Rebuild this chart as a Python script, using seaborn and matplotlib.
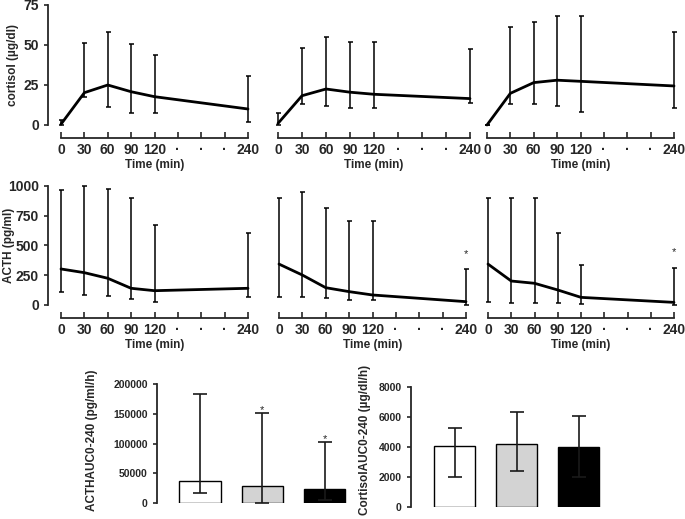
import matplotlib
matplotlib.use("Agg")
import matplotlib.pyplot as plt
import pandas as pd
import seaborn as sns

# time points (min)
times = [0, 30, 60, 90, 120, 240]
tick_pos = [0, 30, 60, 90, 120, 150, 180, 210, 240]
tick_labels = ["0", "30", "60", "90", "120", "·", "·", "·", "240"]

# cortisol (ug/dl): mean, lower, upper per panel
cort_mean_1 = [0.5, 20.2, 25.0, 20.8, 17.7, 10.0]
cort_lo_1 = [0.0, 17.7, 11.5, 7.3, 7.3, 2.0]
cort_hi_1 = [3.0, 51.0, 58.0, 50.4, 44.0, 30.6]
cort_mean_2 = [1.0, 18.3, 22.5, 20.5, 19.2, 16.5]
cort_lo_2 = [0.0, 13.0, 12.0, 10.4, 10.8, 13.5]
cort_hi_2 = [7.3, 48.0, 55.2, 52.0, 52.0, 47.3]
cort_mean_3 = [0.0, 19.8, 26.5, 28.0, 27.3, 24.4]
cort_lo_3 = [0.0, 13.0, 13.0, 12.0, 8.3, 10.4]
cort_hi_3 = [0.0, 61.0, 64.5, 68.3, 68.3, 58.0]

# ACTH (pg/ml)
acth_mean_1 = [302, 271, 224, 140, 120, 140]
acth_lo_1 = [106, 84, 78, 50, 28, 70]
acth_hi_1 = [964, 997, 970, 900, 670, 601]
acth_mean_2 = [343, 251, 145, 112, 84, 28]
acth_lo_2 = [70, 70, 56, 42, 42, 0]
acth_hi_2 = [900, 950, 810, 704, 704, 299]
acth_mean_3 = [343, 201, 182, 126, 64, 22]
acth_lo_3 = [28, 20, 14, 14, 8, 0]
acth_hi_3 = [900, 900, 900, 601, 335, 308]

# AUC bars
groups = ["A", "B", "C"]
bar_colors = ["white", "#d3d3d3", "black"]
acth_auc = [37900, 29000, 23500]
acth_auc_lo = [17800, 1000, 5000]
acth_auc_hi = [183000, 151900, 103300]
cort_auc = [4067, 4156, 4000]
cort_auc_lo = [1980, 2380, 2000]
cort_auc_hi = [5267, 6333, 6067]

sns.set_style("ticks")
plt.rcParams["font.family"] = ["Liberation Sans", "DejaVu Sans"]
plt.rcParams["font.weight"] = "bold"
plt.rcParams["axes.labelweight"] = "bold"

W, H = 685, 519
fig = plt.figure(figsize=(W / 100, H / 100), dpi=100)


def px_axes(left, top, right, bottom):
    return fig.add_axes([left / W, 1 - bottom / H, (right - left) / W, (bottom - top) / H])


def place_ylabel(ax, box, x_px, y_px):
    # x_px is the right edge of the rotated label
    left, top, right, bottom = box
    ax.yaxis.set_label_coords((x_px - left) / (right - left), (bottom - y_px) / (bottom - top))


def time_panel(box, mean, lo, hi, ymax, yticks, ylabel=None, label_x=18, star=None):
    ax = px_axes(*box)
    sns.lineplot(x=times, y=mean, ax=ax, color="black", linewidth=2, clip_on=False)
    yerr = [[m - l for m, l in zip(mean, lo)], [h - m for m, h in zip(mean, hi)]]
    ax.errorbar(times, mean, yerr=yerr, fmt="none", ecolor="black",
                elinewidth=1.1, capsize=1.8, capthick=1.1, clip_on=False)
    ax.set_xlim(0, 240)
    ax.set_ylim(0, ymax)
    ax.set_xticks(tick_pos)
    ax.set_xticklabels(tick_labels, fontsize=7, fontweight="bold")
    ax.tick_params(axis="x", direction="in", length=4, width=1.2, pad=4)
    ax.spines["bottom"].set_position(("outward", 9.3))
    ax.spines["bottom"].set_linewidth(1.3)
    ax.spines["top"].set_visible(False)
    ax.spines["right"].set_visible(False)
    ax.set_xlabel("Time (min)", fontsize=8.5, fontweight="bold", labelpad=1)
    if ylabel:
        ax.set_yticks(yticks)
        ax.set_yticklabels([str(t) for t in yticks], fontsize=7, fontweight="bold")
        ax.tick_params(axis="y", direction="out", length=3, width=1.2)
        ax.spines["left"].set_position(("outward", 9.3))
        ax.spines["left"].set_linewidth(1.3)
        ax.set_ylabel(ylabel, fontsize=8.5, fontweight="bold")
        place_ylabel(ax, box, label_x, (box[1] + box[3]) / 2)
    else:
        ax.spines["left"].set_visible(False)
        ax.set_yticks([])
    if star is not None:
        ax.text(240, star, "*", ha="center", va="center", fontsize=8, fontweight="normal")
    return ax


# top row: cortisol
time_panel((61, 5, 248, 125), cort_mean_1, cort_lo_1, cort_hi_1, 75,
           [0, 25, 50, 75], "cortisol (µg/dl)", label_x=19)
time_panel((278, 5, 470, 125), cort_mean_2, cort_lo_2, cort_hi_2, 75, [])
time_panel((487, 5, 674, 125), cort_mean_3, cort_lo_3, cort_hi_3, 75, [])

# middle row: ACTH
time_panel((61, 185.7, 248, 305), acth_mean_1, acth_lo_1, acth_hi_1, 1000,
           [0, 250, 500, 750, 1000], "ACTH (pg/ml)", label_x=15)
time_panel((279, 185.7, 466, 305), acth_mean_2, acth_lo_2, acth_hi_2, 1000, [], star=430)
time_panel((488, 185.7, 674, 305), acth_mean_3, acth_lo_3, acth_hi_3, 1000, [], star=440)


def bar_panel(box, vals, lo, hi, ymax, yticks, ylabel, xlim, label_x, stars=None):
    ax = px_axes(*box)
    df = pd.DataFrame({"group": groups, "value": vals})
    sns.barplot(data=df, x="group", y="value", hue="group", palette=bar_colors,
                edgecolor="black", linewidth=1, width=0.665, ax=ax, legend=False)
    yerr = [[v - l for v, l in zip(vals, lo)], [h - v for v, h in zip(vals, hi)]]
    ax.errorbar(range(len(groups)), vals, yerr=yerr, fmt="none", ecolor="#1a1a1a",
                elinewidth=1.2, capsize=5, capthick=1.2, zorder=3)
    ax.set_xlim(*xlim)
    ax.set_ylim(0, ymax)
    ax.set_xticks([])
    ax.set_xlabel("")
    ax.set_yticks(yticks)
    ax.set_yticklabels([str(t) for t in yticks], fontsize=7.5, fontweight="bold")
    ax.tick_params(axis="y", direction="out", length=3, width=1.2)
    for s in ["top", "right", "bottom"]:
        ax.spines[s].set_visible(False)
    ax.spines["left"].set_linewidth(1.3)
    ax.set_ylabel(ylabel, fontsize=8.5, fontweight="bold")
    place_ylabel(ax, box, label_x, 440)
    if stars:
        for i, y in stars:
            ax.text(i, y, "*", ha="center", va="center", fontsize=8, fontweight="normal")
    return ax


bar_panel((156.7, 384, 355.7, 503.3), acth_auc, acth_auc_lo, acth_auc_hi, 200000,
          [0, 50000, 100000, 150000, 200000], "ACTHAUC0-240 (pg/ml/h)",
          (-0.695, 2.5), 98, stars=[(1, 156000), (2, 108000)])
bar_panel((410.7, 386.7, 609.8, 506.7), cort_auc, cort_auc_lo, cort_auc_hi, 8000,
          [0, 2000, 4000, 6000, 8000], "CortisolAUC0-240 (µg/dl/h)",
          (-0.71, 2.5), 371)

fig.savefig("out.png", dpi=100)
